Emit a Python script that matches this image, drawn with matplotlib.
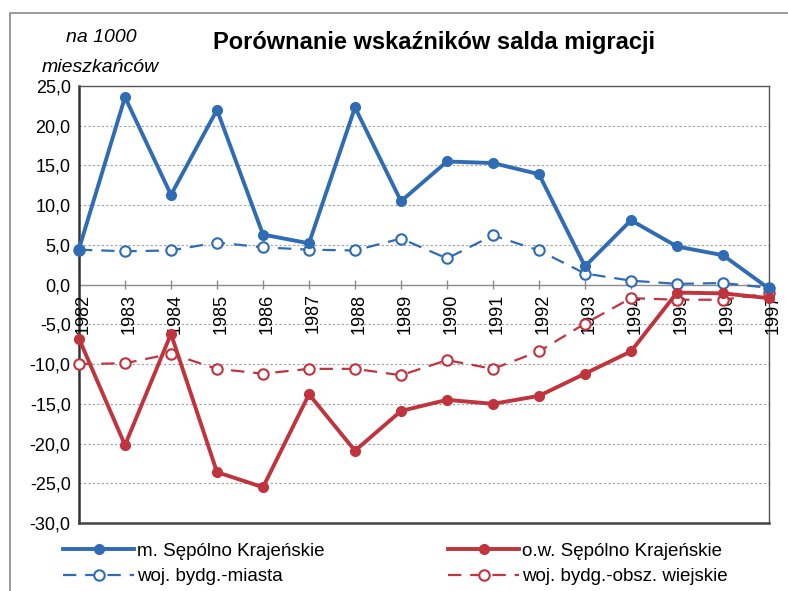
import matplotlib.pyplot as plt
from matplotlib.patches import Rectangle

plt.rcParams['font.family'] = ['Liberation Sans', 'DejaVu Sans']

years = list(range(1982, 1998))

# salda migracji na 1000 mieszkańców
miasto_sepolno = [4.5, 23.6, 11.3, 22.0, 6.3, 5.2, 22.3, 10.5, 15.5, 15.3, 13.9, 2.3, 8.1, 4.8, 3.7, -0.5]
woj_miasta = [4.4, 4.2, 4.3, 5.3, 4.7, 4.4, 4.3, 5.8, 3.3, 6.2, 4.3, 1.4, 0.5, 0.1, 0.2, -0.4]
ow_sepolno = [-6.8, -20.2, -6.2, -23.6, -25.5, -13.8, -20.9, -15.9, -14.5, -15.0, -14.0, -11.2, -8.4, -1.0, -1.1, -1.7]
woj_wiejskie = [-10.0, -9.9, -8.7, -10.6, -11.2, -10.6, -10.6, -11.4, -9.5, -10.6, -8.4, -4.9, -1.7, -1.9, -1.9, -1.1]

yticks = [-30, -25, -20, -15, -10, -5, 0, 5, 10, 15, 20, 25]

blue = '#2F6CB4'
red = '#C0343E'

fig = plt.figure(figsize=(7.88, 5.91), dpi=100)
ax = fig.add_axes([79 / 788, 1 - 523 / 591, 690 / 788, 437 / 591])

# ramka całej strony (skan)
fig.patches.append(Rectangle((10 / 788, -0.1), 1.2, 0.1 + (591 - 13) / 591,
                             transform=fig.transFigure, fill=False,
                             edgecolor='#8a8a8a', lw=1.2))

dash = (0, (6, 4))
l1, = ax.plot(years, miasto_sepolno, color=blue, lw=2.8, marker='o', ms=7,
              label='m. Sępólno Krajeńskie', clip_on=False, zorder=5)
l3, = ax.plot(years, ow_sepolno, color=red, lw=2.8, marker='o', ms=7,
              label='o.w. Sępólno Krajeńskie', clip_on=False, zorder=5)
l2, = ax.plot(years, woj_miasta, color=blue, lw=1.6, ls=dash, marker='o', ms=7.5,
              mfc='white', mew=1.5, label='woj. bydg.-miasta', clip_on=False, zorder=4)
l4, = ax.plot(years, woj_wiejskie, color=red, lw=1.6, ls=dash, marker='o', ms=7.5,
              mfc='white', mew=1.5, label='woj. bydg.-obsz. wiejskie', clip_on=False, zorder=4)

ax.set_xlim(1982, 1997)
ax.set_ylim(-30, 25)
ax.set_yticks(yticks)
ax.set_yticklabels([f'{v:.1f}'.replace('.', ',') for v in yticks], fontsize=13)
ax.tick_params(axis='y', length=0, pad=6)
ax.set_xticks([])

for v in yticks[1:-1]:
    if v != 0:
        ax.axhline(v, color='#a0a0a0', lw=0.8, ls=(0, (2, 2)), zorder=1)
ax.axhline(0, color='#8c8c8c', lw=1.0, zorder=2)
ax.vlines(years, -0.6, 0.6, color='#8c8c8c', lw=1.0, zorder=2)
for yr in years:
    ax.text(yr + 0.08, -1.1, str(yr), rotation=90, ha='center', va='top',
            fontsize=13, zorder=3)

for s in ax.spines.values():
    s.set_color('#555555')
    s.set_linewidth(1.0)
ax.spines['left'].set_linewidth(1.8)
ax.spines['left'].set_color('#333333')
ax.spines['bottom'].set_linewidth(1.8)
ax.spines['bottom'].set_color('#444444')

fig.text(434 / 788, 1 - 42 / 591, 'Porównanie wskaźników salda migracji',
         ha='center', va='center', fontsize=17, fontweight='bold')
fig.text(101 / 788, 1 - 38 / 591, 'na 1000', ha='center', va='center',
         fontsize=14, style='italic')
fig.text(100 / 788, 1 - 68 / 591, 'mieszkańców', ha='center', va='center',
         fontsize=14, style='italic')

leg_kw = dict(loc='center left', frameon=False, fontsize=13.5, handlelength=3.8,
              handletextpad=0.15, labelspacing=0.45, borderpad=0, borderaxespad=0)
fig.legend([l1, l2], [l1.get_label(), l2.get_label()],
           bbox_to_anchor=(63 / 788, 1 - 564 / 591), **leg_kw)
fig.legend([l3, l4], [l3.get_label(), l4.get_label()],
           bbox_to_anchor=(448 / 788, 1 - 564 / 591), **leg_kw)

fig.savefig('out.png', dpi=100, facecolor='white')
